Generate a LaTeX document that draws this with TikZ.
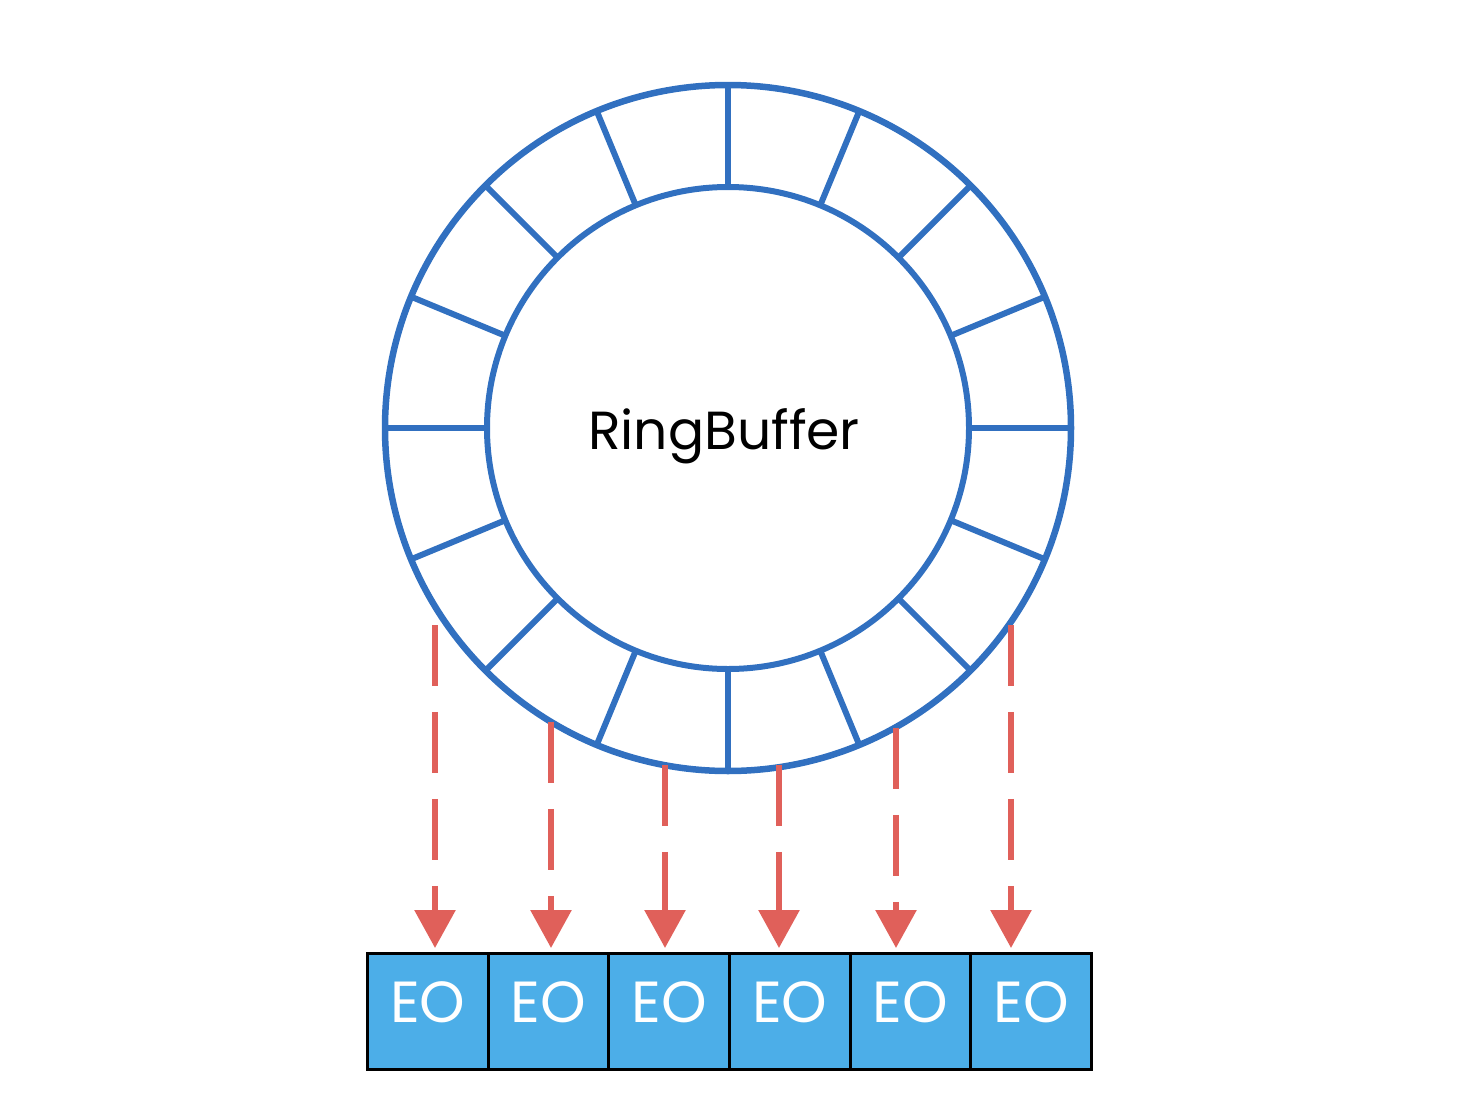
\documentclass[tikz,border=0pt]{standalone}
\usepackage{fontspec}
\setmainfont{Poppins}
\usetikzlibrary{arrows.meta,calc}
\definecolor{ringblue}{HTML}{3170C0}
\definecolor{arrowred}{HTML}{E0605A}
\definecolor{eofill}{HTML}{4CAEE8}
\tikzset{
    ring/.style={draw=ringblue, line width=0.12cm},
    eobox/.style={draw=black, line width=0.06cm, fill=eofill,
        minimum width=2.413cm, minimum height=2.32cm, inner sep=0pt,
        anchor=north west},
    eotext/.style={text=white, font=\fontsize{33}{36}\selectfont},
    feed/.style={draw=arrowred, line width=0.12cm, dash pattern=on 1.22cm off 0.52cm,
        -{Triangle[width=0.8cm,length=0.76cm]}, shorten >=0.08cm}
}
\begin{document}
\begin{tikzpicture}[x=0.02cm,y=-0.02cm]
    \useasboundingbox (0,0) rectangle (1468,1112);

    % Draw ring
    \coordinate (c) at (728,428);
    \draw[ring, line width=0.13cm] (c) circle[radius=343];
    \draw[ring] (c) circle[radius=241];
    \foreach \a in {0,22.5,...,337.5} {
        \draw[ring] ($(c)+(\a:241)$) -- ($(c)+(\a:343)$);
    }
    \node (rb) at (724,436) {\fontsize{30.5}{33}\selectfont RingBuffer};

    % Event boxes
    \foreach \i in {1,...,6} {
        \node[eobox] (e\i) at ({366+120.67*(\i-1)},952) {};
        \node[eotext] (t\i) at ($(e\i.center)+(0,-9)$) {EO};
    }

    % Arrows from ring to boxes
    \foreach \i/\x/\y in {1/435/625, 2/551/722, 3/665/765, 4/779/765, 5/896/728, 6/1011/625} {
        \coordinate (s\i) at (\x,\y);
        \draw[feed] (s\i) -- (s\i |- e1.north);
    }
\end{tikzpicture}
\end{document}
